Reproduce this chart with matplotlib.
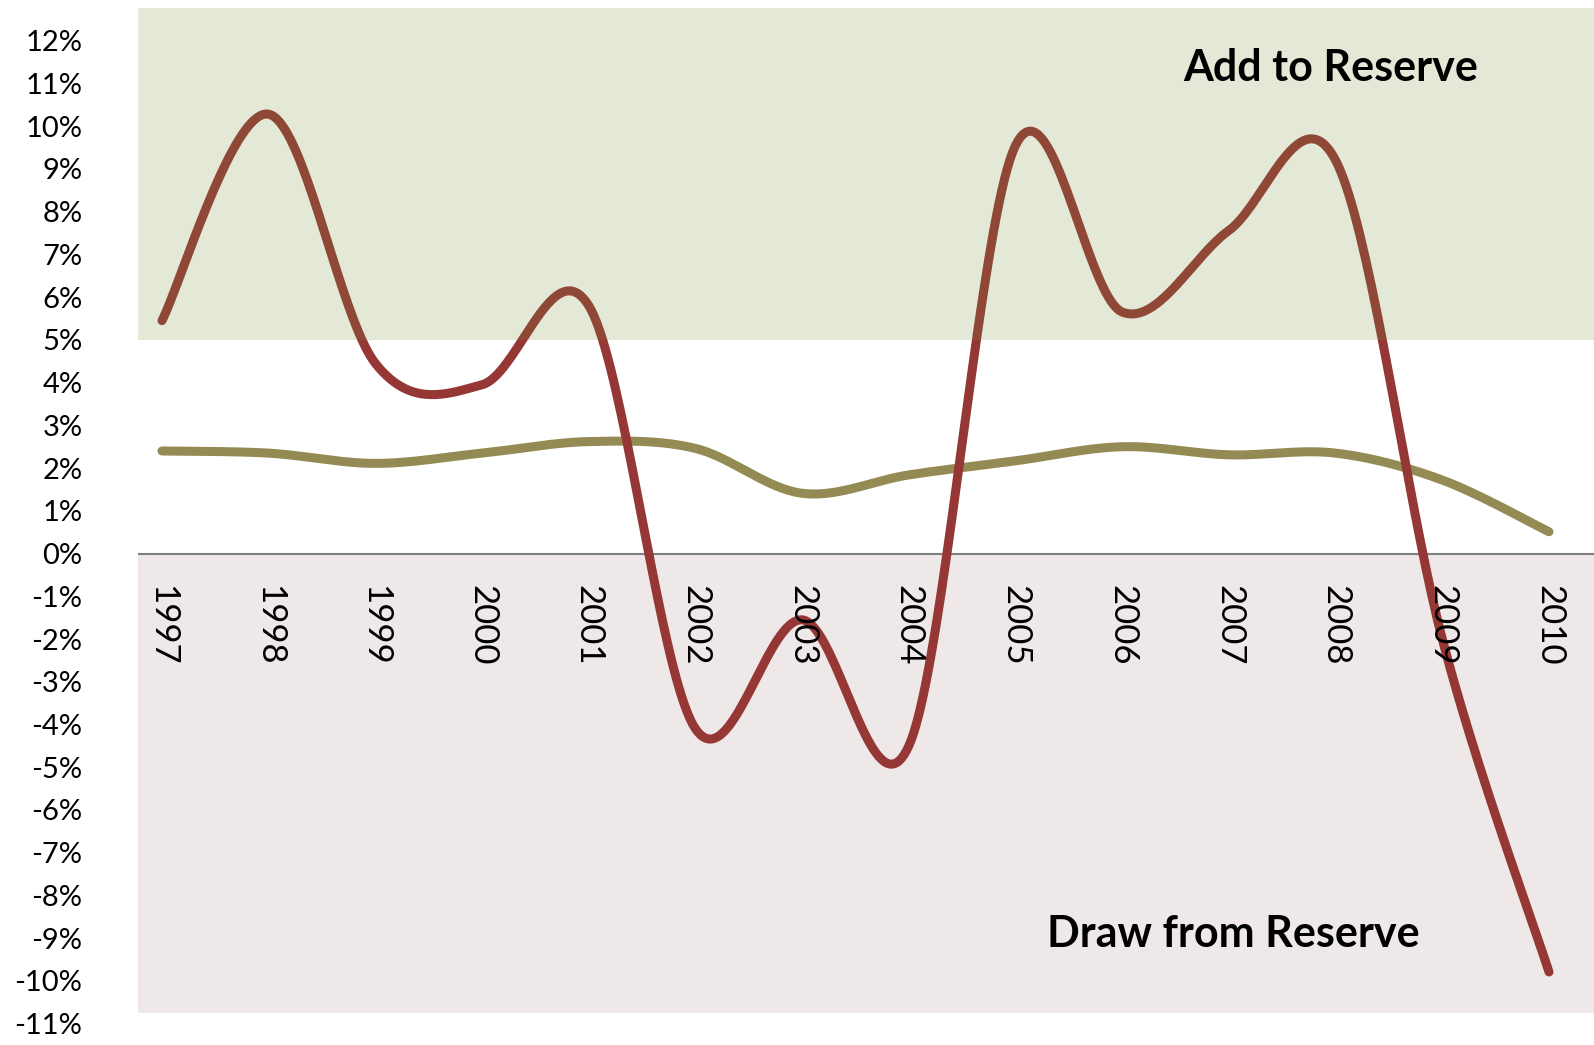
import numpy as np
import matplotlib
matplotlib.use("Agg")
import matplotlib.pyplot as plt

plt.rcParams['font.family'] = ['Lato', 'DejaVu Sans']

years = [1997, 1998, 1999, 2000, 2001, 2002, 2003, 2004, 2005, 2006, 2007, 2008, 2009, 2010]
red_vals = [5.45, 10.28, 4.45, 3.95, 5.8, -4.1, -1.55, -4.5, 9.55, 5.65, 7.56, 9.2, -2.0, -9.79]
olive_vals = [2.40, 2.35, 2.11, 2.35, 2.62, 2.46, 1.41, 1.84, 2.17, 2.50, 2.31, 2.35, 1.72, 0.51]
ytick_vals = list(range(-11, 13))


def smooth(xs, ys, n=40):
    # bezier smoothing through every point, like a spreadsheet "smoothed line"
    p = np.column_stack([xs, ys]).astype(float)
    p = np.vstack([p[0], p, p[-1]])
    out = []
    t = np.linspace(0, 1, n)[:, None]
    for i in range(1, len(p) - 2):
        p0, p1, p2, p3 = p[i - 1], p[i], p[i + 1], p[i + 2]
        c1 = p1 + (p2 - p0) / 6.0
        c2 = p2 - (p3 - p1) / 6.0
        seg = ((1 - t) ** 3) * p1 + 3 * ((1 - t) ** 2) * t * c1 + 3 * (1 - t) * t ** 2 * c2 + t ** 3 * p2
        out.append(seg if i == 1 else seg[1:])
    out = np.vstack(out)
    return out[:, 0], out[:, 1]


fig = plt.figure(figsize=(15.94, 10.45), dpi=100)
ax = fig.add_axes([0.08657, 0.0204, 0.91343, 0.97216])

ax.set_xlim(1996.775, 2010.422)
ax.set_ylim(-11, 12.77)
ax.set_axisbelow(False)

# background bands
ax.axhspan(-10.75, 0, color='#EEE8E8', lw=0, zorder=0)
ax.axhspan(5, 12.77, color=(120/255, 145/255, 55/255), alpha=0.2, lw=0, zorder=3)
ax.axhline(0, color='#808080', lw=1.5, zorder=1)

xs, ys = smooth(years, olive_vals)
ax.plot(xs, ys, color='#948A54', lw=6.5, solid_capstyle='round', zorder=2)
xs, ys = smooth(years, red_vals)
ax.plot(xs, ys, color='#953735', lw=6.5, solid_capstyle='round', zorder=2)

for s in ax.spines.values():
    s.set_visible(False)
ax.spines['bottom'].set_position(('data', 0))

ax.set_xticks(years)
ax.set_xticklabels([str(y) for y in years], rotation=270, fontsize=25)
ax.set_yticks(ytick_vals)
ax.set_yticklabels([f"{v}%" for v in ytick_vals], fontsize=21)
ax.tick_params(axis='x', length=0, pad=23)
ax.tick_params(axis='y', length=0, pad=40)

ax.text(2007.95, 11.06, "Add to Reserve", fontsize=31, fontweight='bold',
        ha='center', va='baseline', zorder=5)
ax.text(2007.04, -9.2, "Draw from Reserve", fontsize=31, fontweight='bold',
        ha='center', va='baseline', zorder=5)

plt.savefig('out.png')
